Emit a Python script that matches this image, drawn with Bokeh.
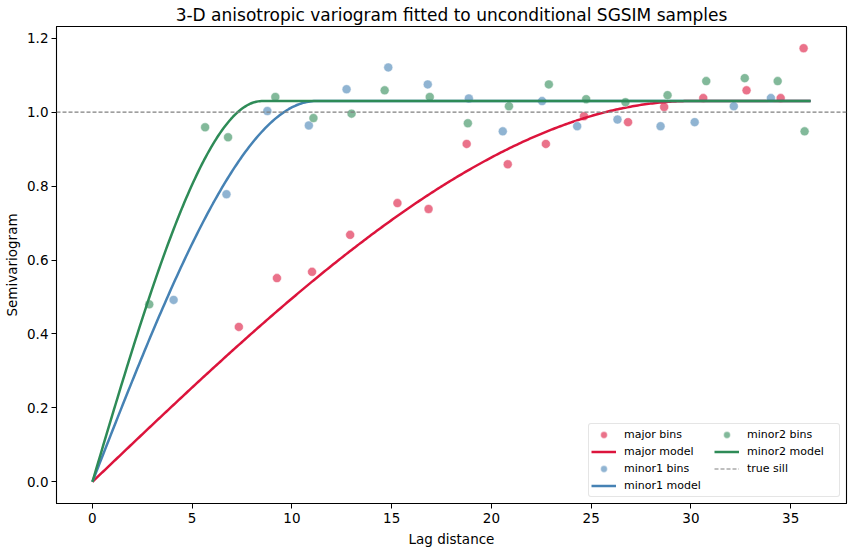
import numpy as np
from bokeh.plotting import figure
from bokeh.models import Legend, LegendItem, Span, Range1d, FixedTicker, NumeralTickFormatter
from bokeh.embed import file_html
from bokeh.resources import INLINE

# ---- data ----
major_lag = [7.34, 9.25, 11.01, 12.92, 15.29, 16.85, 18.76, 20.82, 22.73, 24.64,
             26.85, 28.66, 30.62, 32.79, 34.50, 35.65]
major_gam = [0.419, 0.551, 0.568, 0.668, 0.754, 0.738, 0.914, 0.859, 0.914, 0.989,
             0.973, 1.014, 1.038, 1.059, 1.038, 1.173]

minor1_lag = [4.07, 6.72, 8.77, 10.85, 12.74, 14.83, 16.81, 18.87, 20.57, 22.54,
              24.30, 26.32, 28.48, 30.19, 32.15, 34.01]
minor1_gam = [0.492, 0.778, 1.003, 0.964, 1.062, 1.121, 1.075, 1.037, 0.948, 1.030,
              0.962, 0.980, 0.962, 0.973, 1.016, 1.038]

minor2_lag = [2.85, 5.65, 6.80, 9.17, 11.08, 12.99, 14.65, 16.91, 18.82, 20.88,
              22.88, 24.75, 26.72, 28.83, 30.77, 32.70, 34.35, 35.70]
minor2_gam = [0.480, 0.959, 0.932, 1.041, 0.984, 0.996, 1.059, 1.041, 0.970, 1.016,
              1.075, 1.035, 1.027, 1.046, 1.084, 1.092, 1.084, 0.948]

# fitted spherical model parameters
model_sill = 1.03
range_major = 30.0
range_minor1 = 11.2
range_minor2 = 8.5
max_lag = 36.0
true_sill = 1.0

x_ticks = [0, 5, 10, 15, 20, 25, 30, 35]
y_ticks = [0.0, 0.2, 0.4, 0.6, 0.8, 1.0, 1.2]

c_major = "#dc143c"
c_minor1 = "#4682b4"
c_minor2 = "#2e8b57"


def spherical(h, a, c):
    h = np.asarray(h, dtype=float)
    r = np.clip(h / a, 0, 1)
    return c * (1.5 * r - 0.5 * r ** 3)


h = np.linspace(0, max_lag, 400)

FONT = "DejaVu Sans"

p = figure(width=850, height=550, output_backend="svg", toolbar_location=None,
           x_range=Range1d(-1.8, 37.8), y_range=Range1d(-0.0587, 1.2317),
           min_border_left=56, min_border_right=4, min_border_top=25, min_border_bottom=47)

p.title.text = "3-D anisotropic variogram fitted to unconditional SGSIM samples"
p.title.align = "center"
p.title.text_font = FONT
p.title.text_font_size = "17px"
p.title.text_font_style = "normal"
p.title.text_color = "black"
p.title.standoff = 4
p.title.offset = 0

p.xgrid.visible = False
p.ygrid.visible = False
p.outline_line_color = "black"
p.outline_line_width = 1.1
p.outline_line_alpha = 1.0

for ax in (p.xaxis[0], p.yaxis[0]):
    ax.major_tick_in = 0
    ax.major_tick_out = 5
    ax.minor_tick_in = 0
    ax.minor_tick_out = 0
    ax.axis_line_color = "black"
    ax.major_tick_line_color = "black"
    ax.major_label_text_font = FONT
    ax.major_label_text_font_size = "13.5px"
    ax.major_label_text_color = "black"
    ax.axis_label_text_font = FONT
    ax.axis_label_text_font_size = "13.5px"
    ax.axis_label_text_font_style = "normal"
    ax.axis_label_text_color = "black"
    ax.major_label_standoff = 4

p.xaxis[0].ticker = FixedTicker(ticks=x_ticks)
p.yaxis[0].ticker = FixedTicker(ticks=y_ticks)
p.yaxis[0].formatter = NumeralTickFormatter(format="0.0")
p.xaxis[0].axis_label = "Lag distance"
p.yaxis[0].axis_label = "Semivariogram"
p.xaxis[0].axis_label_standoff = 5
p.yaxis[0].major_label_standoff = 3
p.yaxis[0].axis_label_standoff = 4

# true sill
sill_span = Span(location=true_sill, dimension="width", line_color="#808080",
                 line_dash="4 2", line_width=1.2)
p.add_layout(sill_span)
sill_legend = p.line([np.nan, np.nan], [np.nan, np.nan], line_color="#808080",
                     line_dash="4 2", line_width=1.2)

def scatter(x, y, col):
    return p.scatter(x, y, size=9, fill_color=col, fill_alpha=0.6,
                     line_color="white", line_alpha=0.6, line_width=0.8)

r_maj_b = scatter(major_lag, major_gam, c_major)
r_maj_m = p.line(h, spherical(h, range_major, model_sill), line_color=c_major, line_width=2.5)
r_m1_b = scatter(minor1_lag, minor1_gam, c_minor1)
r_m1_m = p.line(h, spherical(h, range_minor1, model_sill), line_color=c_minor1, line_width=2.5)
r_m2_b = scatter(minor2_lag, minor2_gam, c_minor2)
r_m2_m = p.line(h, spherical(h, range_minor2, model_sill), line_color=c_minor2, line_width=2.5)

legend = Legend(items=[
    LegendItem(label="major bins", renderers=[r_maj_b]),
    LegendItem(label="major model", renderers=[r_maj_m]),
    LegendItem(label="minor1 bins", renderers=[r_m1_b]),
    LegendItem(label="minor1 model", renderers=[r_m1_m]),
    LegendItem(label="minor2 bins", renderers=[r_m2_b]),
    LegendItem(label="minor2 model", renderers=[r_m2_m]),
    LegendItem(label="true sill", renderers=[sill_legend]),
], location="bottom_right", ncols=2, orientation="vertical")
legend.label_text_font = FONT
legend.label_text_font_size = "11px"
legend.label_text_color = "black"
legend.label_height = 17
legend.glyph_height = 17
legend.glyph_width = 25
legend.label_width = 90
legend.label_standoff = 8
legend.spacing = 0
legend.padding = 2
legend.margin = 6
legend.border_line_color = "#cccccc"
legend.border_line_width = 1
legend.border_radius = 3
legend.background_fill_alpha = 0.8
p.add_layout(legend)

open("out.html", "w").write(file_html(p, INLINE))
